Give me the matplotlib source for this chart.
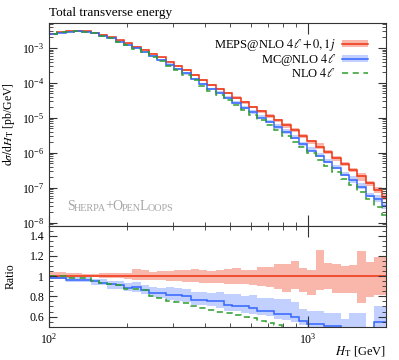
import numpy as np
import matplotlib
matplotlib.use('Agg')
import matplotlib.pyplot as plt
import matplotlib.ticker as tck
from matplotlib.patches import Patch
from matplotlib.lines import Line2D

plt.rcParams['font.family'] = ['Liberation Serif', 'DejaVu Serif']
plt.rcParams['mathtext.fontset'] = 'stix'

# binning: 41 log-uniform bins starting at 100 GeV (last one runs past the axis)
edges = np.logspace(2.0, 2.0 + 41 * 0.03217, 42)

# MEPS@NLO 4l+0,1j  [pb/GeV]
meps = np.array([
    2.51e-3, 2.82e-3, 3.02e-3, 3.09e-3, 3.02e-3, 2.75e-3, 2.40e-3, 2.04e-3,
    1.66e-3, 1.35e-3, 1.10e-3, 8.9e-4, 6.9e-4, 5.4e-4, 4.1e-4, 3.1e-4,
    2.34e-4, 1.70e-4, 1.20e-4, 8.9e-5, 6.8e-5, 5.1e-5, 3.8e-5, 2.8e-5,
    2.09e-5, 1.55e-5, 1.15e-5, 8.5e-6, 6.2e-6, 4.4e-6, 3.1e-6, 2.19e-6,
    1.51e-6, 1.05e-6, 7.1e-7, 4.9e-7, 3.3e-7, 2.19e-7, 1.41e-7, 8.9e-8,
    5.6e-8])
meps_hi = np.array([
    1.04, 1.04, 1.03, 1.03, 1.025, 1.025, 1.03, 1.03, 1.035, 1.03, 1.07,
    1.065, 1.045, 1.05, 1.055, 1.06, 1.065, 1.07, 1.06, 1.055, 1.06, 1.075,
    1.08, 1.06, 1.065, 1.09, 1.095, 1.12, 1.12, 1.15, 1.08, 1.06, 1.26,
    1.13, 1.12, 1.10, 1.11, 1.245, 1.14, 1.19, 1.19])
meps_lo = np.array([
    0.975, 0.975, 0.985, 0.99, 0.99, 0.99, 0.985, 0.985, 0.98, 0.97, 0.965,
    0.965, 0.96, 0.96, 0.955, 0.95, 0.945, 0.945, 0.935, 0.93, 0.93, 0.925,
    0.92, 0.92, 0.91, 0.905, 0.89, 0.875, 0.84, 0.875, 0.84, 0.81, 0.86,
    0.875, 0.83, 0.83, 0.83, 0.73, 0.79, 0.81, 0.81])

# MC@NLO 4l, as ratio to MEPS@NLO
mcnlo = np.array([
    0.98, 0.98, 0.965, 0.965, 0.965, 0.95, 0.93, 0.92, 0.91, 0.885, 0.895,
    0.86, 0.83, 0.83, 0.815, 0.81, 0.805, 0.76, 0.76, 0.755, 0.75, 0.71,
    0.70, 0.70, 0.69, 0.66, 0.66, 0.63, 0.63, 0.60, 0.56, 0.53, 0.53, 0.51,
    0.51, 0.48, 0.49, 0.48, 0.42, 0.545, 0.545])
mcnlo_hi = np.array([
    1.0, 1.0, 0.99, 0.99, 0.99, 0.975, 0.975, 0.95, 0.95, 0.93, 0.94, 0.91,
    0.89, 0.885, 0.89, 0.88, 0.875, 0.84, 0.84, 0.83, 0.84, 0.82, 0.82,
    0.80, 0.81, 0.78, 0.78, 0.77, 0.77, 0.74, 0.68, 0.66, 0.66, 0.64, 0.64,
    0.58, 0.64, 0.64, 0.49, 0.70, 0.70])
mcnlo_lo = np.array([
    0.97, 0.97, 0.94, 0.94, 0.94, 0.91, 0.91, 0.87, 0.87, 0.85, 0.84, 0.82,
    0.79, 0.78, 0.76, 0.75, 0.74, 0.71, 0.71, 0.70, 0.69, 0.66, 0.66, 0.64,
    0.63, 0.62, 0.61, 0.58, 0.57, 0.55, 0.52, 0.50, 0.49, 0.48, 0.47, 0.44,
    0.42, 0.42, 0.38, 0.45, 0.45])

# NLO 4l, as ratio to MEPS@NLO
nlo = np.array([
    1.0, 1.0, 0.98, 0.98, 0.98, 0.955, 0.93, 0.92, 0.91, 0.875, 0.87, 0.86,
    0.80, 0.78, 0.75, 0.74, 0.73, 0.70, 0.69, 0.67, 0.65, 0.64, 0.62, 0.60,
    0.59, 0.56, 0.54, 0.52, 0.49, 0.47, 0.46, 0.44, 0.42, 0.41, 0.39, 0.37,
    0.36, 0.34, 0.33, 0.31, 0.30])

red = '#EE3311'
blue = '#3366FF'
green = '#2E9E2E'

fig = plt.figure(figsize=(3.99, 3.6), dpi=100)
ax = fig.add_axes([0.1228, 0.373, 0.8446, 0.563])
rax = fig.add_axes([0.1228, 0.0925, 0.8446, 0.2806], sharex=ax)

# main panel
ax.stairs(meps * meps_hi, edges, baseline=meps * meps_lo, fill=True,
          color=red, alpha=0.35, lw=0)
ax.stairs(meps * mcnlo_hi, edges, baseline=meps * mcnlo_lo, fill=True,
          color=blue, alpha=0.3, lw=0)
ax.stairs(meps, edges, color=red, lw=1.1)
ax.stairs(meps * mcnlo, edges, color=blue, lw=1.1)
ax.stairs(meps * nlo, edges, color=green, lw=1.1, ls=(0, (4, 3)))

# ratio panel
rax.stairs(meps_hi, edges, baseline=meps_lo, fill=True, color=red,
           alpha=0.35, lw=0)
rax.stairs(mcnlo_hi, edges, baseline=mcnlo_lo, fill=True, color=blue,
           alpha=0.3, lw=0)
rax.stairs(np.ones_like(meps), edges, color=red, lw=1.1)
rax.stairs(mcnlo, edges, color=blue, lw=1.1)
rax.stairs(nlo, edges, color=green, lw=1.1, ls=(0, (4, 3)))

ax.set_xscale('log')
ax.set_yscale('log')
ax.set_xlim(100, 2000)
ax.set_ylim(10**-8.086, 10**-2.286)
rax.set_ylim(0.5, 1.5)

for a in (ax, rax):
    a.tick_params(which='both', direction='in', top=True, right=True,
                  labelsize=8.5, colors='#333333', labelcolor='black')
    a.tick_params(which='major', length=6, width=0.8)
    a.tick_params(which='minor', length=3, width=0.6)
    a.tick_params(axis='x', which='major', length=8)
    for s in a.spines.values():
        s.set_linewidth(0.8)
        s.set_color('#333333')

ax.tick_params(axis='x', which='both', labelbottom=False)
ax.yaxis.set_major_locator(tck.LogLocator(base=10, numticks=20))
ax.yaxis.set_minor_locator(tck.LogLocator(base=10, subs=np.arange(2, 10), numticks=20))
ax.yaxis.set_minor_formatter(tck.NullFormatter())
rax.xaxis.set_minor_formatter(tck.NullFormatter())
rax.yaxis.set_major_locator(tck.MultipleLocator(0.2))
rax.yaxis.set_minor_locator(tck.MultipleLocator(0.05))
rax.yaxis.set_major_formatter(tck.FuncFormatter(lambda v, p: '%g' % round(v, 2)))

ax.set_ylabel(r'$\mathrm{d}\sigma/\mathrm{d}H_\mathrm{T}$ [pb/GeV]', fontsize=8.5)
rax.set_ylabel('Ratio', fontsize=8.5)
ax.yaxis.set_label_coords(-0.095, 0.5)
rax.yaxis.set_label_coords(-0.095, 0.5)
rax.set_xlabel(r'$H_\mathrm{T}$ [GeV]', fontsize=9, loc='right', labelpad=-1)
ax.set_title('Total transverse energy', fontsize=9.5, loc='left', pad=5)

# legend: label on the left, band + line on the right
handles = [
    (Patch(facecolor=red, alpha=0.35, lw=0), Line2D([], [], color=red, lw=1.1)),
    (Patch(facecolor=blue, alpha=0.3, lw=0), Line2D([], [], color=blue, lw=1.1)),
    Line2D([], [], color=green, lw=1.1, ls=(0, (4, 3))),
]
labels = [r'MEPS@NLO $4\ell+0,1j$', r'MC@NLO $4\ell$', r'NLO $4\ell$']
ax.legend(handles, labels, loc='upper right', bbox_to_anchor=(0.962, 0.955),
          frameon=False, markerfirst=False, fontsize=9, handlelength=2.1,
          handleheight=0.5, labelspacing=-0.1, handletextpad=0.5,
          borderaxespad=0)

# small caps watermark
pieces = [('S', 10), ('HERPA', 7.3), ('+', 10), ('O', 10), ('PEN', 7.3),
          ('L', 10), ('OOPS', 7.3)]
prev = ax.text(0.053, 0.065, pieces[0][0], transform=ax.transAxes,
               fontsize=pieces[0][1], color='#a6a6a6', va='bottom')
for txt, fs in pieces[1:]:
    prev = ax.annotate(txt, xy=(1, 0), xycoords=prev, fontsize=fs,
                       xytext=(-0.6, 0), textcoords='offset points',
                       color='#a6a6a6', va='bottom', ha='left')

fig.savefig('out.png', dpi=100)
